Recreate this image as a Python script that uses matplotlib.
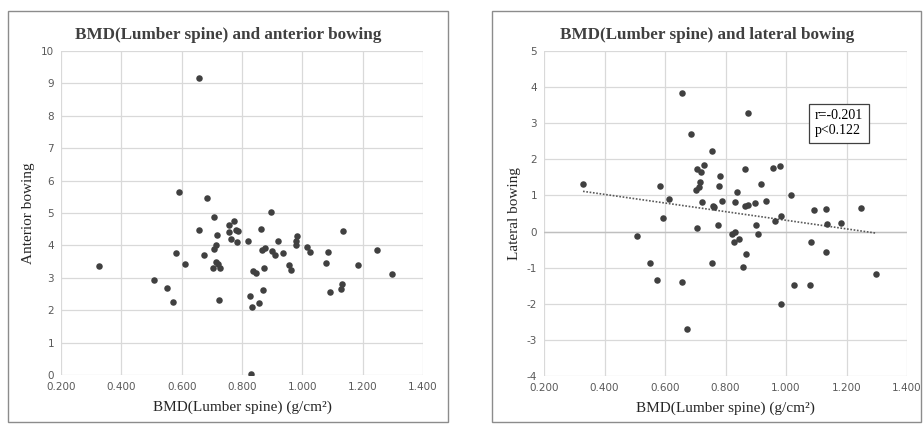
import numpy as np
import matplotlib
matplotlib.use("Agg")
import matplotlib.pyplot as plt
from matplotlib.patches import Rectangle

plt.rcParams["axes.unicode_minus"] = False

# --- Data ---
bmd_ant = [0.326, 0.508, 0.552, 0.570, 0.581, 0.612, 0.657, 0.673, 0.703, 0.706,
           0.714, 0.716, 0.714, 0.722, 0.728, 0.724, 0.706, 0.756, 0.756, 0.763,
           0.775, 0.779, 0.788, 0.783, 0.820, 0.827, 0.833, 0.831, 0.838, 0.846,
           0.857, 0.863, 0.866, 0.876, 0.869, 0.874, 0.896, 0.900, 0.908, 0.918,
           0.936, 0.956, 0.964, 0.982, 0.980, 0.980, 1.017, 1.025, 1.079, 1.084,
           1.092, 1.128, 1.133, 1.134, 1.183, 1.249, 1.297, 0.657, 0.592, 0.683]
anterior = [3.35, 2.94, 2.70, 2.25, 3.76, 3.42, 4.48, 3.70, 3.30, 3.89,
            4.02, 4.33, 3.48, 3.42, 3.30, 2.32, 4.88, 4.64, 4.41, 4.21,
            4.76, 4.46, 4.43, 4.09, 4.14, 2.45, 2.09, 0.02, 3.20, 3.14,
            2.22, 4.52, 3.87, 3.92, 2.63, 3.30, 5.03, 3.84, 3.71, 4.14,
            3.77, 3.38, 3.23, 4.28, 4.15, 4.02, 3.96, 3.79, 3.47, 3.80,
            2.55, 2.65, 2.82, 4.43, 3.40, 3.86, 3.11, 9.16, 5.66, 5.46]

bmd_lat = [0.329, 0.657, 0.685, 0.756, 0.873, 0.583, 0.612, 0.705, 0.719, 0.728,
           0.716, 0.714, 0.703, 0.778, 0.783, 0.866, 0.956, 0.979, 0.918, 0.838,
           1.016, 0.722, 0.758, 0.763, 0.787, 0.832, 0.863, 0.874, 0.896, 0.935,
           1.092, 1.131, 1.249, 0.594, 0.509, 0.552, 0.572, 0.657, 0.673, 0.706,
           0.754, 0.775, 0.822, 0.830, 0.827, 0.846, 0.869, 0.858, 0.900, 0.908,
           0.963, 0.982, 0.984, 1.025, 1.079, 1.084, 1.134, 1.133, 1.183, 1.298]
lateral = [1.31, 3.83, 2.71, 2.24, 3.28, 1.27, 0.90, 1.74, 1.66, 1.84,
           1.36, 1.23, 1.15, 1.27, 1.53, 1.73, 1.77, 1.82, 1.33, 1.09,
           1.01, 0.81, 0.72, 0.67, 0.84, 0.81, 0.72, 0.73, 0.79, 0.84,
           0.59, 0.62, 0.65, 0.37, -0.13, -0.86, -1.35, -1.41, -2.71, 0.09,
           -0.86, 0.17, -0.08, 0.00, -0.29, -0.21, -0.63, -0.97, 0.19, -0.06,
           0.29, 0.44, -2.01, -1.47, -1.49, -0.28, 0.21, -0.57, 0.24, -1.17]

stats_text = "r=-0.201\np<0.122"

SERIF = ["Liberation Serif", "DejaVu Serif"]
TICK_COLOR = "#595959"
GRID_COLOR = "#d9d9d9"
DOT_COLOR = "#404040"

fig = plt.figure(figsize=(9.23, 4.24), dpi=100)

# panel frames (Excel chart borders)
W, H = 923.0, 424.0
for x0, x1 in [(8, 448), (492, 921)]:
    fig.patches.append(Rectangle((x0 / W, 1 - 422 / H), (x1 - x0) / W, (422 - 11) / H,
                                 transform=fig.transFigure, fill=False,
                                 edgecolor="#8c8c8c", linewidth=1.0))


def style_axes(ax, ylim, yticks):
    ax.set_xlim(0.2, 1.4)
    ax.set_ylim(*ylim)
    ax.set_xticks(np.arange(0.2, 1.401, 0.2))
    ax.set_xticklabels([f"{v:.3f}" for v in np.arange(0.2, 1.401, 0.2)])
    ax.set_yticks(yticks)
    ax.grid(True, color=GRID_COLOR, linewidth=0.9)
    ax.set_axisbelow(True)
    for s in ax.spines.values():
        s.set_visible(False)
    ax.tick_params(length=0, labelsize=7.5, colors=TICK_COLOR, pad=5)
    ax.set_xlabel("BMD(Lumber spine) (g/cm²)", family=SERIF, fontsize=11,
                  color="#262626", labelpad=6)


# --- Left: anterior bowing ---
ax1 = fig.add_axes([61 / W, 1 - 375 / H, 362 / W, 324 / H])
style_axes(ax1, (0, 10), range(0, 11))
ax1.scatter(bmd_ant, anterior, s=22, color=DOT_COLOR, zorder=3, linewidths=0)
ax1.set_ylabel("Anterior bowing", family=SERIF, fontsize=11, color="#262626", labelpad=4)
fig.text(228 / W, 1 - 35 / H, "BMD(Lumber spine) and anterior bowing", family=SERIF,
         fontsize=12.3, fontweight="bold", color="#404040", ha="center", va="center")

# --- Right: lateral bowing ---
ax2 = fig.add_axes([544 / W, 1 - 376 / H, 363 / W, 325 / H])
style_axes(ax2, (-4, 5), range(-4, 6))
ax2.axhline(0, color="#bfbfbf", linewidth=1.0, zorder=1)
ax2.scatter(bmd_lat, lateral, s=22, color=DOT_COLOR, zorder=3, linewidths=0)

# linear trend line
slope, intercept = np.polyfit(bmd_lat, lateral, 1)
xs = np.array([min(bmd_lat), max(bmd_lat)])
ax2.plot(xs, slope * xs + intercept, linestyle=(0, (1, 1)), color="#595959",
         linewidth=1.2, zorder=2)

ax2.set_ylabel("Lateral bowing", family=SERIF, fontsize=11, color="#262626", labelpad=4)
ax2.text(1.095, 3.0, stats_text, family=SERIF, fontsize=10, color="#000000",
         va="center", ha="left", linespacing=1.2,
         bbox=dict(boxstyle="square,pad=0.4", facecolor="white", edgecolor="#404040",
                   linewidth=0.9))
fig.text(707 / W, 1 - 35 / H, "BMD(Lumber spine) and lateral bowing", family=SERIF,
         fontsize=12.3, fontweight="bold", color="#404040", ha="center", va="center")

fig.savefig("out.png", dpi=100)
